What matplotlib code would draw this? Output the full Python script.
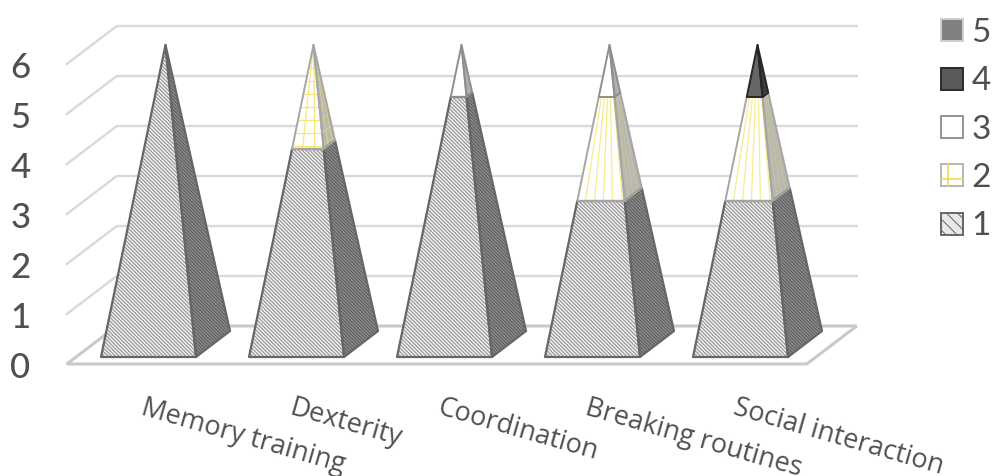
import numpy as np
import matplotlib
matplotlib.use("Agg")
import matplotlib.pyplot as plt
from matplotlib.patches import Patch, Polygon

plt.rcParams["font.family"] = ["Lato", "DejaVu Sans"]
plt.rcParams["hatch.linewidth"] = 0.7

# Chart values
categories = ["Memory training", "Dexterity", "Coordination", "Breaking routines", "Social interaction"]
series_names = ["1", "2", "3", "4", "5"]
s1 = [6, 4, 5, 3, 3]
s2 = [0, 2, 0, 2, 2]
s3 = [0, 0, 1, 1, 0]
s4 = [0, 0, 0, 0, 1]
s5 = [0, 0, 0, 0, 0]
y_ticks = [0, 1, 2, 3, 4, 5, 6]
y_max = 6

# Projection of the fake 3D box, in data units (1 category = 148 px, 1 value = 50 px)
half_w = 47.5 / 148
depth_x = 34 / 148
depth_y = 26 / 50
base = 0.14
scale = 1.04
wall_dx = 50 / 148
wall_dy = 38 / 50

GRID = "#d9d9d9"
TEXT = "#505050"

fig = plt.figure(figsize=(9.92, 4.76), dpi=100)
ax = fig.add_axes([0, 0, 1, 1])
ax.set_xlim(-148.5 / 148, (992 - 148.5) / 148)
ax.set_ylim((364 - 476) / 50, 364 / 50)
ax.axis("off")

# walls and floor
left = -0.5520
right = 4.4477
for v in y_ticks:
    if v > 0:
        ax.plot([left, left + wall_dx, right + wall_dx], [v, v + wall_dy, v + wall_dy],
                color=GRID, lw=1.7, zorder=1, solid_joinstyle="miter")
ax.add_patch(Polygon([(left, 0), (right, 0), (right + wall_dx, wall_dy), (left + wall_dx, wall_dy)],
                     closed=True, facecolor="white", edgecolor="#c9c9c9", lw=2.2, zorder=1))


def corners(cat, t):
    # front left, front right, back right at fraction t of the pyramid height
    apex = np.array([cat + depth_x / 2, base + y_max * scale])
    fl = np.array([cat - half_w, base])
    fr = np.array([cat + half_w, base])
    br = np.array([cat + half_w + depth_x, base + depth_y])
    return [p + (apex - p) * t for p in (fl, fr, br)]


def yellow_lines(lo, hi, cat, fracs, fracs_side, rows, col, side_col):
    fl0, fr0, br0 = corners(cat, lo)
    fl1, fr1, br1 = corners(cat, hi)
    for f in fracs:
        a = fl0 + (fr0 - fl0) * f
        b = fl1 + (fr1 - fl1) * f
        ax.plot([a[0], b[0]], [a[1], b[1]], color=col, lw=0.9, zorder=5)
    for f in fracs_side:
        a = fr0 + (br0 - fr0) * f
        b = fr1 + (br1 - fr1) * f
        ax.plot([a[0], b[0]], [a[1], b[1]], color=side_col, lw=0.7, zorder=5)
    for r in rows:
        t = lo + (hi - lo) * r
        fl, fr, br = corners(cat, t)
        ax.plot([fl[0], fr[0]], [fl[1], fr[1]], color=col, lw=0.9, zorder=5)
        ax.plot([fr[0], br[0]], [fr[1], br[1]], color=side_col, lw=0.7, zorder=5)


def section(cat, lo, hi, front, side, edge, lw=1.6, hatch=None, hatch_side=None, hatch_col=None, hatch_side_col=None):
    fl0, fr0, br0 = corners(cat, lo)
    fl1, fr1, br1 = corners(cat, hi)
    ax.add_patch(Polygon([fl0, fr0, fr1, fl1], closed=True, facecolor=front,
                         edgecolor=hatch_col if hatch else front, hatch=hatch, lw=0, zorder=4))
    ax.add_patch(Polygon([fr0, br0, br1, fr1], closed=True, facecolor=side,
                         edgecolor=hatch_side_col if hatch_side else side, hatch=hatch_side, lw=0, zorder=4))
    ax.add_patch(Polygon([fl0, fr0, fr1, fl1], closed=True, fill=False, edgecolor=edge, lw=lw, zorder=6,
                         joinstyle="round"))
    ax.add_patch(Polygon([fr0, br0, br1, fr1], closed=True, fill=False, edgecolor=edge, lw=lw, zorder=6,
                         joinstyle="round"))


for i, cat in enumerate(categories):
    cum = 0
    for k, vals in enumerate([s1, s2, s3, s4, s5]):
        v = vals[i]
        if v == 0:
            continue
        lo = cum / y_max
        hi = (cum + v) / y_max
        cum += v
        if k == 0:
            section(i, lo, hi, "#ededed", "#8c8c8c", "#666666", hatch="\\" * 9, hatch_side="\\" * 10,
                    hatch_col="#8a8a8a", hatch_side_col="#5a5a5a")
        elif k == 1:
            section(i, lo, hi, "white", "#b8b8b0", "#a6a6a6", lw=1.4)
            if s1[i] == 4:
                yellow_lines(lo, hi, i, [0.33, 0.72], [0.4, 0.8], np.arange(0.03, 0.98, 0.125), "#f7e77a", "#d8cf8c")
            else:
                yellow_lines(lo, hi, i, [0.17, 0.36, 0.55, 0.74, 0.95], [0.25, 0.5, 0.75], [], "#f8eb8c", "#c8c3a0")
        elif k == 2:
            section(i, lo, hi, "white", "#b0b0b0", "#8f8f8f", lw=1.4)
        elif k == 3:
            section(i, lo, hi, "#666666", "#3c3c3c", "#262626", lw=1.4)

# value labels
for v in y_ticks:
    ax.text(-0.865, v - 0.08, str(v), ha="center", va="center", fontsize=25, color=TEXT, fontweight="medium")

# category labels, clipped by the bottom of the figure as in the original
for i, cat in enumerate(categories):
    ax.text(i - 8.5 / 148, -1.0, cat, rotation=-16, rotation_mode="anchor", ha="left", va="baseline",
            fontsize=19.5, color=TEXT, family="Open Sans")

handles = [
    Patch(facecolor="#808080", edgecolor="#cfcfcf", lw=1.4),
    Patch(facecolor="#5a5a5a", edgecolor="#2b2b2b", lw=1.4),
    Patch(facecolor="white", edgecolor="#949494", lw=1.4),
    Patch(facecolor="white", edgecolor="#b5b5b5", lw=1.4),
    Patch(facecolor="#e8e8e8", edgecolor="#666666", lw=1.4, hatch="\\\\\\"),
]
leg = ax.legend(handles, series_names[::-1], loc="upper left", bbox_to_anchor=(941 / 992, 1 - 18 / 476),
                bbox_transform=fig.transFigure, frameon=False, fontsize=24, labelcolor=TEXT,
                handlelength=0.65, handleheight=0.65, handletextpad=0.26, labelspacing=0.55,
                borderpad=0, borderaxespad=0)

# yellow cross on the series 2 swatch
fig.canvas.draw()
box = leg.legend_handles[3].get_window_extent()
x0, x1, y0, y1 = box.x0 / 992, box.x1 / 992, box.y0 / 476, box.y1 / 476
fig.add_artist(plt.Line2D([x0 + (x1 - x0) * 0.32] * 2, [y0 + 0.002, y1 - 0.002], color="#f5dc5a", lw=1.3))
fig.add_artist(plt.Line2D([x0 + 0.001, x1 - 0.001], [y0 + (y1 - y0) * 0.35] * 2, color="#f5dc5a", lw=1.3))

fig.savefig("out.png", dpi=100)
